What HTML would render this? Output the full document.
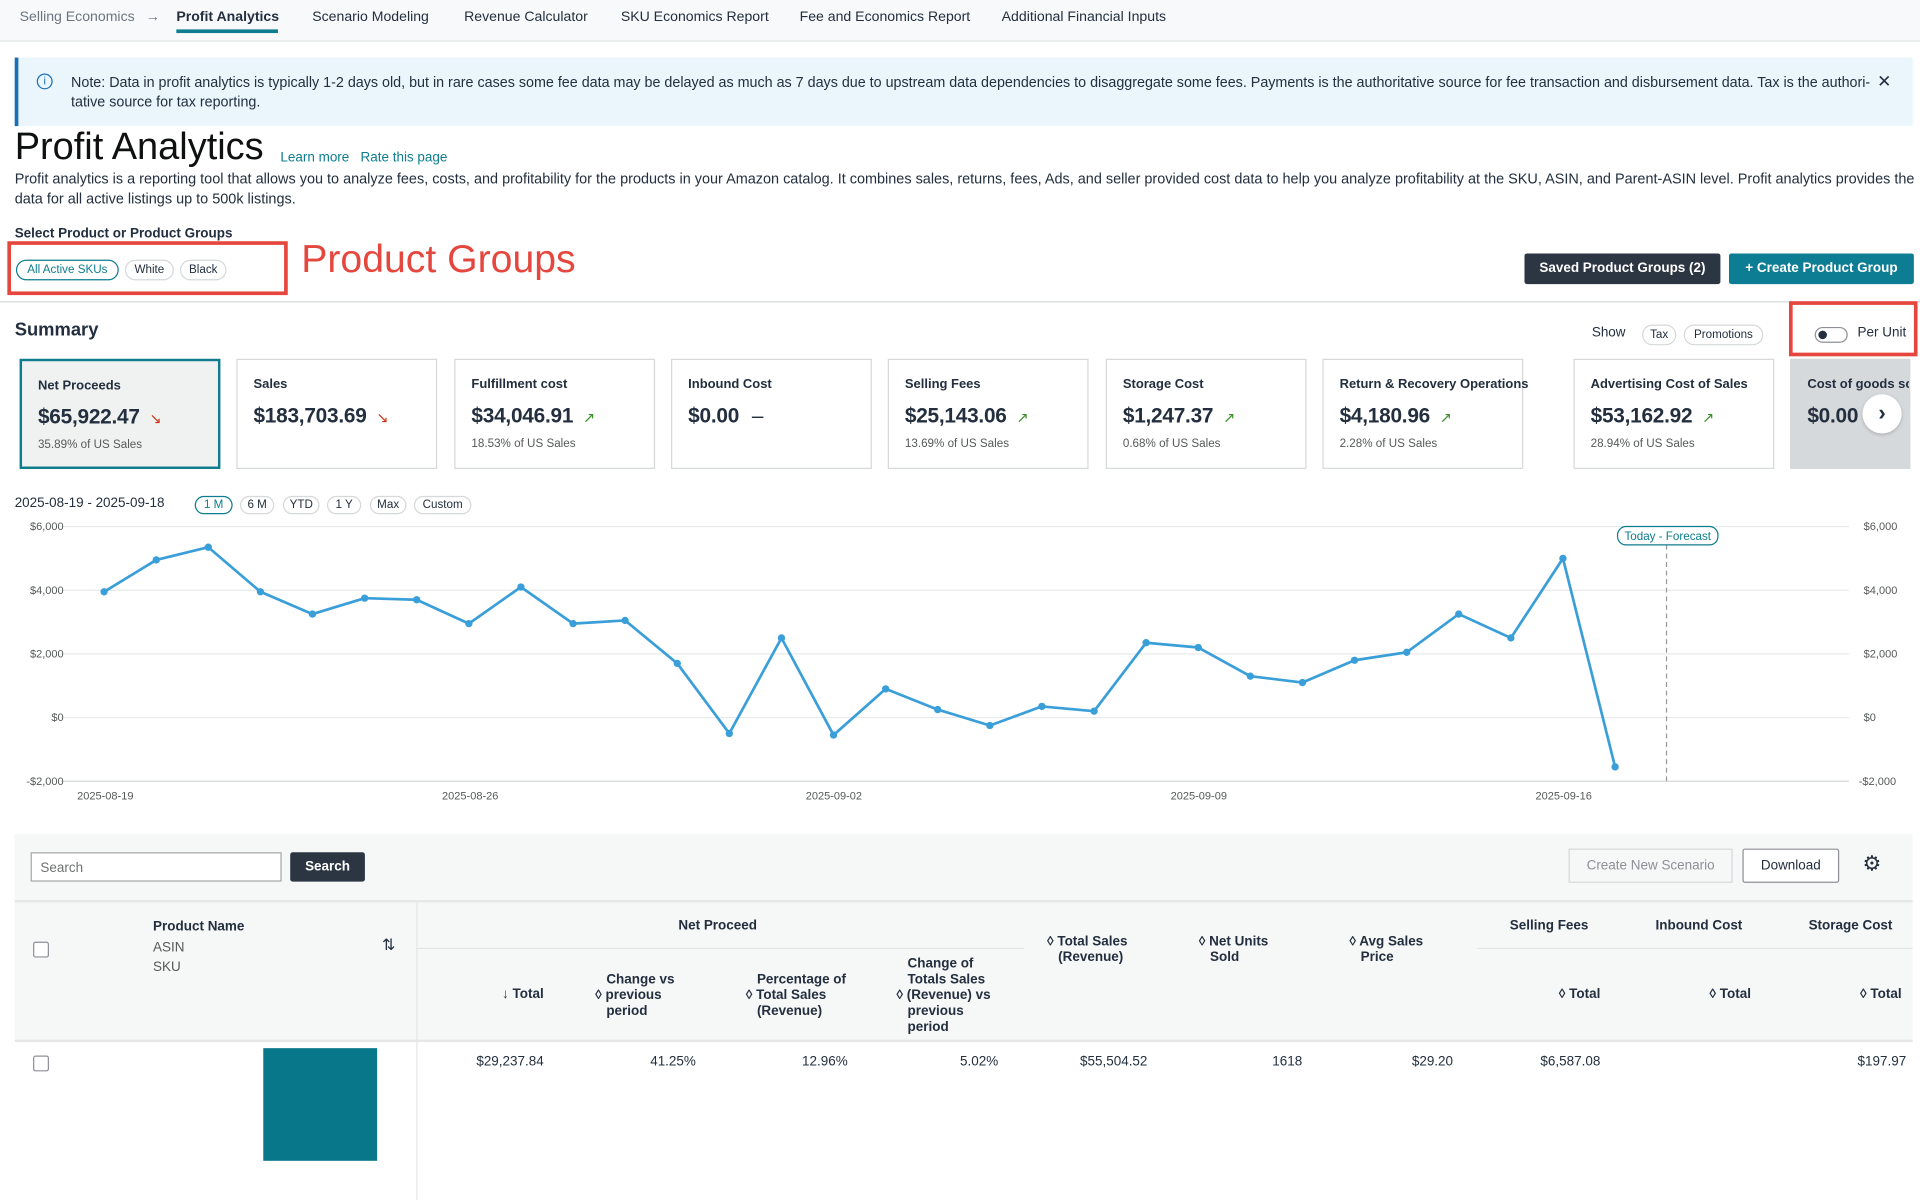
<!DOCTYPE html>
<html><head><meta charset="utf-8">
<style>
html,body{margin:0;padding:0;background:#fff;width:1920px;height:1200px;overflow:hidden}
#w{position:absolute;left:0;top:0;width:1568px;height:980px;transform:scale(1.22449);transform-origin:0 0;font-family:"Liberation Sans",sans-serif;color:#0f1111}
.a{position:absolute;white-space:nowrap}
.nav{font-size:11.5px;color:#232f3e;top:8px}
.pill{position:absolute;border:1px solid #d5d9d9;border-radius:9px;font-size:9.5px;text-align:center;box-sizing:border-box;background:#fff;color:#232f3e}
.card{position:absolute;top:293px;height:90px;width:164px;border:1px solid #d5d9d9;box-sizing:border-box;background:#fff}
.card .h{position:absolute;left:13px;top:14px;font-size:10.6px;font-weight:bold;color:#232f3e;white-space:nowrap}
.card .v{position:absolute;left:13px;top:36px;font-size:17px;font-weight:bold;color:#232f3e;white-space:nowrap;letter-spacing:-0.2px}
.card .s{position:absolute;left:13px;top:63px;font-size:9.5px;color:#565959;white-space:nowrap}
.up{color:#3a8f2a;font-size:12px;margin-left:8px;font-weight:normal}
.dn{color:#d13212;font-size:12px;margin-left:8px;font-weight:normal}
.th{font-size:11px;font-weight:bold;color:#232f3e;line-height:13px}
.td{font-size:11px;color:#232f3e}
.cb{position:absolute;width:11px;height:11px;border:1.5px solid #8d9096;border-radius:2px;background:#fff}
</style></head><body>
<div id="w">
<div class="a" style="left:0;top:0;width:1568px;height:33px;background:#f7f9fa;border-bottom:1px solid #e3e6e6"></div>
<div class="a nav" style="left:16px;color:#6b7580">Selling Economics</div>
<div class="a nav" style="left:119px;color:#6b7580">→</div>
<div class="a nav" style="left:144px;font-weight:bold">Profit Analytics</div>
<div class="a" style="left:144px;top:24px;width:83px;height:3px;background:#0d7d8f"></div>
<div class="a nav" style="left:255px">Scenario Modeling</div>
<div class="a nav" style="left:379px">Revenue Calculator</div>
<div class="a nav" style="left:507px">SKU Economics Report</div>
<div class="a nav" style="left:653px">Fee and Economics Report</div>
<div class="a nav" style="left:818px">Additional Financial Inputs</div>
<div class="a" style="left:12px;top:47px;width:1550px;height:56px;background:#eaf6fc;border-left:3px solid #1b6fb5;box-sizing:border-box"></div>
<div class="a" style="left:30px;top:60px;width:11px;height:11px;border:1.3px solid #1b6fb5;border-radius:50%;font-size:9px;color:#1b6fb5;text-align:center;line-height:11px">i</div>
<div class="a" style="left:58px;top:60px;font-size:11.7px;color:#232f3e;line-height:16px">Note: Data in profit analytics is typically 1-2 days old, but in rare cases some fee data may be delayed as much as 7 days due to upstream data dependencies to disaggregate some fees. Payments is the authoritative source for fee transaction and disbursement data. Tax is the authori-<br>tative source for tax reporting.</div>
<div class="a" style="left:1533px;top:58px;font-size:14px;color:#232f3e">✕</div>
<div class="a" style="left:12px;top:102px;font-size:31px;color:#0f1111">Profit Analytics</div>
<div class="a" style="left:229px;top:123px;font-size:11px;color:#0d7d8f">Learn more&nbsp;&nbsp; Rate this page</div>
<div class="a" style="left:12px;top:138px;font-size:11.8px;color:#232f3e;line-height:16px">Profit analytics is a reporting tool that allows you to analyze fees, costs, and profitability for the products in your Amazon catalog. It combines sales, returns, fees, Ads, and seller provided cost data to help you analyze profitability at the SKU, ASIN, and Parent-ASIN level. Profit analytics provides the<br>data for all active listings up to 500k listings.</div>
<div class="a" style="left:12px;top:185px;font-size:11px;font-weight:bold;color:#232f3e">Select Product or Product Groups</div>
<div class="pill" style="left:13px;top:212px;width:84px;height:17px;line-height:15px;border-color:#0d7d8f;color:#0d7d8f">All Active SKUs</div>
<div class="pill" style="left:102px;top:212px;width:40px;height:17px;line-height:15px">White</div>
<div class="pill" style="left:147px;top:212px;width:38px;height:17px;line-height:15px">Black</div>
<div class="a" style="left:6px;top:197px;width:229px;height:44px;border:3px solid #e5473f;box-sizing:border-box"></div>
<div class="a" style="left:246px;top:193px;font-size:32px;color:#e5473f">Product Groups</div>
<div class="a" style="left:1245px;top:207px;width:160px;height:25px;background:#2c3642;border-radius:2px;color:#fff;font-size:11px;font-weight:bold;text-align:center;line-height:25px">Saved Product Groups (2)</div>
<div class="a" style="left:1412px;top:207px;width:151px;height:25px;background:#0d7d93;border-radius:2px;color:#fff;font-size:11px;font-weight:bold;text-align:center;line-height:25px">+ Create Product Group</div>
<div class="a" style="left:0;top:246px;width:1568px;height:1px;background:#d5d9d9"></div>
<div class="a" style="left:12px;top:261px;font-size:15px;font-weight:bold;color:#232f3e">Summary</div>
<div class="a" style="left:1300px;top:266px;font-size:11px;color:#232f3e">Show</div>
<div class="pill" style="left:1341px;top:265px;width:28px;height:17px;line-height:15px">Tax</div>
<div class="pill" style="left:1375px;top:265px;width:65px;height:17px;line-height:15px">Promotions</div>
<div class="a" style="left:1461px;top:246px;width:105px;height:45px;border:3px solid #e5473f;box-sizing:border-box"></div>
<div class="a" style="left:1482px;top:267px;width:25px;height:11px;border:1.3px solid #8d9096;border-radius:7px;background:#fff"></div>
<div class="a" style="left:1485px;top:270px;width:7px;height:7px;border-radius:50%;background:#232f3e"></div>
<div class="a" style="left:1517px;top:266px;font-size:11px;color:#232f3e">Per Unit</div>

<div class="card" style="left:16px;background:#f0f2f2;border:2px solid #0e7c8c"><div class="h">Net Proceeds</div><div class="v">$65,922.47<span class="dn">↘</span></div><div class="s">35.89% of US Sales</div></div>
<div class="card" style="left:193px"><div class="h">Sales</div><div class="v">$183,703.69<span class="dn">↘</span></div></div>
<div class="card" style="left:371px"><div class="h">Fulfillment cost</div><div class="v">$34,046.91<span class="up">↗</span></div><div class="s">18.53% of US Sales</div></div>
<div class="card" style="left:548px"><div class="h">Inbound Cost</div><div class="v">$0.00 <span style="font-weight:normal;margin-left:6px">–</span></div></div>
<div class="card" style="left:725px"><div class="h">Selling Fees</div><div class="v">$25,143.06<span class="up">↗</span></div><div class="s">13.69% of US Sales</div></div>
<div class="card" style="left:903px"><div class="h">Storage Cost</div><div class="v">$1,247.37<span class="up">↗</span></div><div class="s">0.68% of US Sales</div></div>
<div class="card" style="left:1080px"><div class="h">Return &amp; Recovery Operations</div><div class="v">$4,180.96<span class="up">↗</span></div><div class="s">2.28% of US Sales</div></div>
<div class="card" style="left:1285px"><div class="h">Advertising Cost of Sales</div><div class="v">$53,162.92<span class="up">↗</span></div><div class="s">28.94% of US Sales</div></div>
<div class="card" style="left:1462px;width:98px;background:#d5d9dc;border-color:#d5d9dc;overflow:hidden"><div class="h">Cost of goods sold</div><div class="v">$0.00</div></div>
<div class="a" style="left:1521px;top:322px;width:32px;height:32px;border-radius:50%;background:#fff;box-shadow:0 1px 3px rgba(0,0,0,.2);text-align:center;line-height:30px;font-size:18px;font-weight:bold;color:#232f3e">›</div>

<div class="a" style="left:12px;top:405px;font-size:11px;color:#232f3e">2025-08-19 - 2025-09-18</div>
<div class="pill" style="left:159px;top:405px;width:31px;height:15px;line-height:13px;border-color:#0d7d8f;color:#0d7d8f">1 M</div>
<div class="pill" style="left:196px;top:405px;width:28px;height:15px;line-height:13px">6 M</div>
<div class="pill" style="left:231px;top:405px;width:30px;height:15px;line-height:13px">YTD</div>
<div class="pill" style="left:267px;top:405px;width:28px;height:15px;line-height:13px">1 Y</div>
<div class="pill" style="left:302px;top:405px;width:30px;height:15px;line-height:13px">Max</div>
<div class="pill" style="left:338px;top:405px;width:47px;height:15px;line-height:13px">Custom</div>

<svg class="a" style="left:0;top:0" width="1568" height="680" viewBox="0 0 1568 680">
<g stroke="#e8eaea" stroke-width="1">
<line x1="50" y1="430" x2="1510" y2="430"/><line x1="50" y1="482" x2="1510" y2="482"/><line x1="50" y1="534" x2="1510" y2="534"/><line x1="50" y1="586" x2="1510" y2="586"/></g>
<line x1="50" y1="638" x2="1510" y2="638" stroke="#d5d9d9"/>
<g font-family="Liberation Sans,sans-serif" font-size="9" fill="#565959">
<text x="52" y="433" text-anchor="end">$6,000</text><text x="52" y="485" text-anchor="end">$4,000</text><text x="52" y="537" text-anchor="end">$2,000</text><text x="52" y="589" text-anchor="end">$0</text><text x="52" y="641" text-anchor="end">-$2,000</text>
<text x="1522" y="433">$6,000</text><text x="1522" y="485">$4,000</text><text x="1522" y="537">$2,000</text><text x="1522" y="589">$0</text><text x="1518" y="641">-$2,000</text>
<text x="86" y="653" text-anchor="middle">2025-08-19</text><text x="384" y="653" text-anchor="middle">2025-08-26</text><text x="681" y="653" text-anchor="middle">2025-09-02</text><text x="979" y="653" text-anchor="middle">2025-09-09</text><text x="1277" y="653" text-anchor="middle">2025-09-16</text>
</g>
<line x1="1361" y1="445" x2="1361" y2="638" stroke="#999" stroke-dasharray="4,3"/>
<rect x="1321" y="430" width="82" height="15" rx="7" fill="#fff" stroke="#0d7d8f"/>
<text x="1362" y="441" text-anchor="middle" font-family="Liberation Sans,sans-serif" font-size="9.5" fill="#0d7d8f">Today - Forecast</text>
<polyline fill="none" stroke="#3a9fd9" stroke-width="2.2" stroke-linejoin="round" points="85,483.3 127.6,457.3 170.1,446.9 212.7,483.3 255.2,501.5 297.8,488.5 340.3,489.8 382.9,509.3 425.4,479.4 468,509.3 510.5,506.7 553.1,541.8 595.6,599 638.2,521 680.7,600.3 723.3,562.6 765.8,579.5 808.4,592.5 850.9,576.9 893.5,580.8 936,524.9 978.6,528.8 1021.1,552.2 1063.7,557.4 1106.2,539.2 1148.8,532.7 1191.3,501.5 1233.9,521 1276.4,456 1319,626.3"/>
<g fill="#3a9fd9">
<circle cx="85" cy="483.3" r="3"/><circle cx="127.6" cy="457.3" r="3"/><circle cx="170.1" cy="446.9" r="3"/><circle cx="212.7" cy="483.3" r="3"/><circle cx="255.2" cy="501.5" r="3"/><circle cx="297.8" cy="488.5" r="3"/><circle cx="340.3" cy="489.8" r="3"/><circle cx="382.9" cy="509.3" r="3"/><circle cx="425.4" cy="479.4" r="3"/><circle cx="468" cy="509.3" r="3"/><circle cx="510.5" cy="506.7" r="3"/><circle cx="553.1" cy="541.8" r="3"/><circle cx="595.6" cy="599" r="3"/><circle cx="638.2" cy="521" r="3"/><circle cx="680.7" cy="600.3" r="3"/><circle cx="723.3" cy="562.6" r="3"/><circle cx="765.8" cy="579.5" r="3"/><circle cx="808.4" cy="592.5" r="3"/><circle cx="850.9" cy="576.9" r="3"/><circle cx="893.5" cy="580.8" r="3"/><circle cx="936" cy="524.9" r="3"/><circle cx="978.6" cy="528.8" r="3"/><circle cx="1021.1" cy="552.2" r="3"/><circle cx="1063.7" cy="557.4" r="3"/><circle cx="1106.2" cy="539.2" r="3"/><circle cx="1148.8" cy="532.7" r="3"/><circle cx="1191.3" cy="501.5" r="3"/><circle cx="1233.9" cy="521" r="3"/><circle cx="1276.4" cy="456" r="3"/><circle cx="1319" cy="626.3" r="3"/>
</g>
</svg>

<div class="a" style="left:12px;top:681px;width:1550px;height:169px;background:#f6f7f7"></div>
<div class="a" style="left:25px;top:696px;width:205px;height:24px;border:1px solid #a6a6a6;background:#fff;box-sizing:border-box;font-size:11px;color:#6f7373;padding:6px 7px">Search</div>
<div class="a" style="left:237px;top:696px;width:61px;height:24px;background:#2c3642;border-radius:2px;color:#fff;font-size:11px;font-weight:bold;text-align:center;line-height:24px">Search</div>
<div class="a" style="left:1281px;top:693px;width:134px;height:28px;border:1px solid #d5d9d9;background:#f6f7f7;box-sizing:border-box;font-size:11px;color:#8d9096;text-align:center;line-height:26px">Create New Scenario</div>
<div class="a" style="left:1423px;top:693px;width:79px;height:28px;border:1px solid #8d9096;background:#fff;box-sizing:border-box;border-radius:2px;font-size:11px;color:#232f3e;text-align:center;line-height:26px">Download</div>
<div class="a" style="left:1521px;top:696px;font-size:17px;color:#232f3e">⚙</div>
<div class="a" style="left:12px;top:735px;width:1550px;height:2px;background:#e6e8e8"></div>
<div class="a" style="left:340px;top:737px;width:1px;height:243px;background:#e3e6e6"></div>
<div class="a" style="left:341px;top:774px;width:495px;height:1px;background:#e3e6e6"></div>
<div class="a" style="left:1206px;top:774px;width:356px;height:1px;background:#e3e6e6"></div>
<div class="a" style="left:12px;top:849px;width:1550px;height:2px;background:#e6e8e8"></div>
<div class="cb" style="left:27px;top:769px"></div>
<div class="a th" style="left:125px;top:751px">Product Name</div>
<div class="a td" style="left:125px;top:766px;color:#565959;line-height:16px">ASIN<br>SKU</div>
<div class="a" style="left:312px;top:764px;font-size:13px;color:#232f3e">⇅</div>
<div class="a th" style="left:554px;top:750px">Net Proceed</div>
<div class="a th" style="left:410px;top:806px">↓ Total</div>
<div class="a th" style="left:486px;top:794px">&nbsp;&nbsp;&nbsp;Change vs<br>◊ previous<br>&nbsp;&nbsp;&nbsp;period</div>
<div class="a th" style="left:609px;top:794px">&nbsp;&nbsp;&nbsp;Percentage of<br>◊ Total Sales<br>&nbsp;&nbsp;&nbsp;(Revenue)</div>
<div class="a th" style="left:732px;top:781px">&nbsp;&nbsp;&nbsp;Change of<br>&nbsp;&nbsp;&nbsp;Totals Sales<br>◊ (Revenue) vs<br>&nbsp;&nbsp;&nbsp;previous<br>&nbsp;&nbsp;&nbsp;period</div>
<div class="a th" style="left:855px;top:763px">◊ Total Sales<br>&nbsp;&nbsp;&nbsp;(Revenue)</div>
<div class="a th" style="left:979px;top:763px">◊ Net Units<br>&nbsp;&nbsp;&nbsp;Sold</div>
<div class="a th" style="left:1102px;top:763px">◊ Avg Sales<br>&nbsp;&nbsp;&nbsp;Price</div>
<div class="a th" style="left:1233px;top:750px">Selling Fees</div>
<div class="a th" style="left:1352px;top:750px">Inbound Cost</div>
<div class="a th" style="left:1477px;top:750px">Storage Cost</div>
<div class="a th" style="left:1273px;top:806px">◊ Total</div>
<div class="a th" style="left:1396px;top:806px">◊ Total</div>
<div class="a th" style="left:1519px;top:806px">◊ Total</div>
<div class="cb" style="left:27px;top:862px"></div>
<div class="a" style="left:215px;top:856px;width:93px;height:92px;background:#08778a"></div>
<div class="a td" style="left:389px;top:861px">$29,237.84</div>
<div class="a td" style="left:531px;top:861px">41.25%</div>
<div class="a td" style="left:655px;top:861px">12.96%</div>
<div class="a td" style="left:784px;top:861px">5.02%</div>
<div class="a td" style="left:882px;top:861px">$55,504.52</div>
<div class="a td" style="left:1039px;top:861px">1618</div>
<div class="a td" style="left:1153px;top:861px">$29.20</div>
<div class="a td" style="left:1258px;top:861px">$6,587.08</div>
<div class="a td" style="left:1517px;top:861px">$197.97</div>
</div>
</body></html>
